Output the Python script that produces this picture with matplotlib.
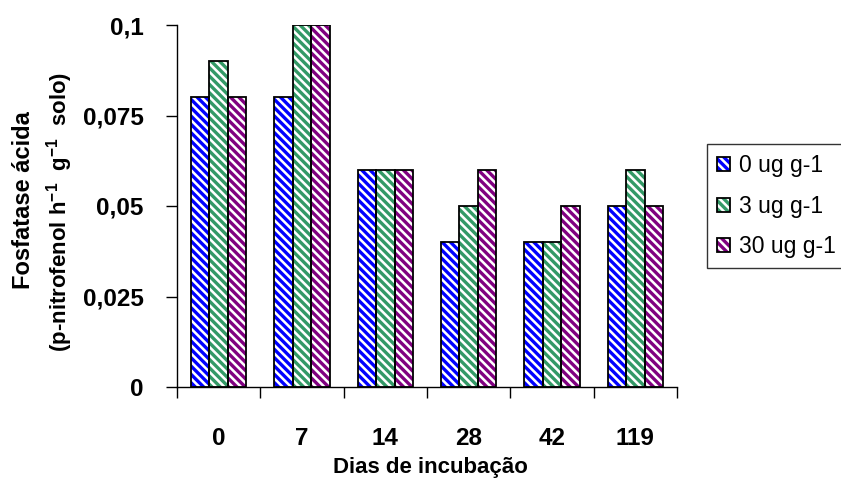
import numpy as np
import matplotlib
matplotlib.use("Agg")
import matplotlib.pyplot as plt
from matplotlib.patches import Patch
from matplotlib.legend_handler import HandlerTuple

# atividade da fosfatase ácida por dia de incubação e dose
dias = ["0", "7", "14", "28", "42", "119"]
doses = ["0 ug g-1", "3 ug g-1", "30 ug g-1"]
dose_0 = [0.08, 0.08, 0.06, 0.04, 0.04, 0.05]
dose_3 = [0.09, 0.10, 0.06, 0.05, 0.04, 0.06]
dose_30 = [0.08, 0.10, 0.06, 0.06, 0.05, 0.05]
yticks = [0, 0.025, 0.05, 0.075, 0.1]
ytick_labels = ["0", "0,025", "0,05", "0,075", "0,1"]

cores = ["#0000ff", "#339966", "#800080"]
series = [dose_0, dose_3, dose_30]

plt.rcParams["font.family"] = ["Liberation Sans", "DejaVu Sans"]
plt.rcParams["mathtext.fontset"] = "custom"
plt.rcParams["mathtext.rm"] = "Liberation Sans"
plt.rcParams["mathtext.bf"] = "Liberation Sans:bold"
plt.rcParams["hatch.linewidth"] = 2.4

fig = plt.figure(figsize=(8.41, 4.79), dpi=100)
ax = fig.add_axes([177/841, 1-387/479, 500/841, 362/479])

x = np.arange(len(dias)) + 0.5
w = 0.667 / 3
handles = []
for k, (vals, cor) in enumerate(zip(series, cores)):
    pos = x + (k - 1) * w
    ax.bar(pos, vals, w, color="white", edgecolor=cor, linewidth=0,
           hatch="\\\\\\\\", zorder=2)
    ax.bar(pos, vals, w, color="none", edgecolor="black", linewidth=1.3,
           zorder=3)
    handles.append((Patch(facecolor="white", edgecolor=cor, linewidth=0,
                          hatch="\\\\\\\\"),
                    Patch(facecolor="none", edgecolor="black", linewidth=1.3)))

ax.set_xlim(0, len(dias))
ax.set_ylim(0, 0.1)
for s in ["top", "right"]:
    ax.spines[s].set_visible(False)
for s in ["left", "bottom"]:
    ax.spines[s].set_linewidth(1.0)
    ax.spines[s].set_clip_on(False)

ax.set_yticks(yticks)
ax.set_yticklabels(ytick_labels, fontsize=17.5, fontweight="bold")
ax.tick_params(axis="y", length=8, width=1, pad=16)

# ticks nas divisões, rótulos no centro de cada grupo
ax.set_xticks(np.arange(len(dias) + 1))
ax.set_xticklabels([])
ax.set_xticks(x, minor=True)
ax.set_xticklabels(dias, minor=True, fontsize=17.5, fontweight="bold")
ax.tick_params(axis="x", which="major", length=8, width=1)
ax.tick_params(axis="x", which="minor", length=0, pad=29)

fig.text(430/841, 1-468/479, "Dias de incubação", ha="center", va="center",
         fontsize=16, fontweight="bold")
fig.text(24/841, 1-200/479, "Fosfatase ácida", ha="center", va="center",
         rotation=90, fontsize=17, fontweight="bold")
fig.text(60/841, 1-212/479,
         r"(p-nitrofenol h$^{\mathbf{-1}}$  g$^{\mathbf{-1}}$  solo)",
         ha="center", va="center", rotation=90, fontsize=16,
         fontweight="bold")

leg = fig.legend(handles, doses, loc="upper left",
                 bbox_to_anchor=(707/841, 1-144/479), borderaxespad=0,
                 handler_map={tuple: HandlerTuple(ndivide=1, pad=0)},
                 fontsize=16.5, frameon=True, fancybox=False,
                 handlelength=0.55, handleheight=0.55, handletextpad=0.4,
                 borderpad=0.45, labelspacing=0.76)
leg.get_frame().set_edgecolor("black")
leg.get_frame().set_linewidth(1.0)

fig.savefig("out.png", dpi=100, facecolor="white")
